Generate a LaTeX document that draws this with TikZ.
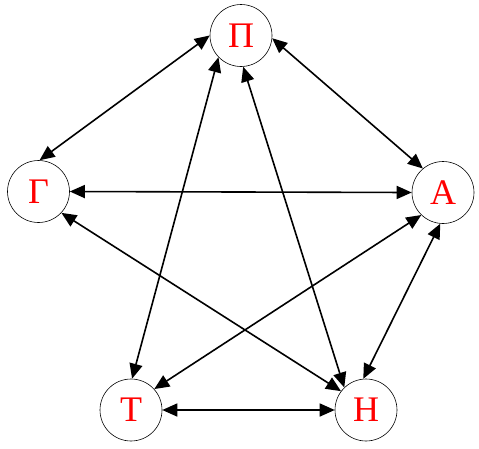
\documentclass[tikz,border=0pt]{standalone}
\usepackage{fontspec}
\setmainfont{Liberation Serif}
\usetikzlibrary{arrows.meta}
\begin{document}
\begin{tikzpicture}[x=1pt,y=-1pt,
  vnode/.style={circle,draw=black,line width=0.6pt,minimum size=62pt,inner sep=0pt,text=red,font=\fontsize{36}{40}\selectfont},
  link/.style={line width=1.6pt,{Triangle[length=15pt,width=13pt]}-{Triangle[length=15pt,width=13pt]}}]
\useasboundingbox (0,0) rectangle (479,448);
\node[vnode] (P) at (241,35.5) {Π};
\node[vnode] (G) at (38.5,191.5) {Γ};
\node[vnode] (A) at (443,192.5) {Α};
\node[vnode] (T) at (131,410) {Τ};
\node[vnode] (H) at (366,410) {Η};
\draw[link] (P.180) -- (G.88);
\draw[link] (P.-5) -- (A.130);
\draw[link] (P.224) -- (T.88);
\draw[link] (P.274) -- (H.134);
\draw[link] (G.0) -- (A.180);
\draw[link] (G.317) -- (H.143);
\draw[link] (A.226) -- (T.42);
\draw[link] (A.265) -- (H.95);
\draw[link] (T.0) -- (H.180);
\end{tikzpicture}
\end{document}
